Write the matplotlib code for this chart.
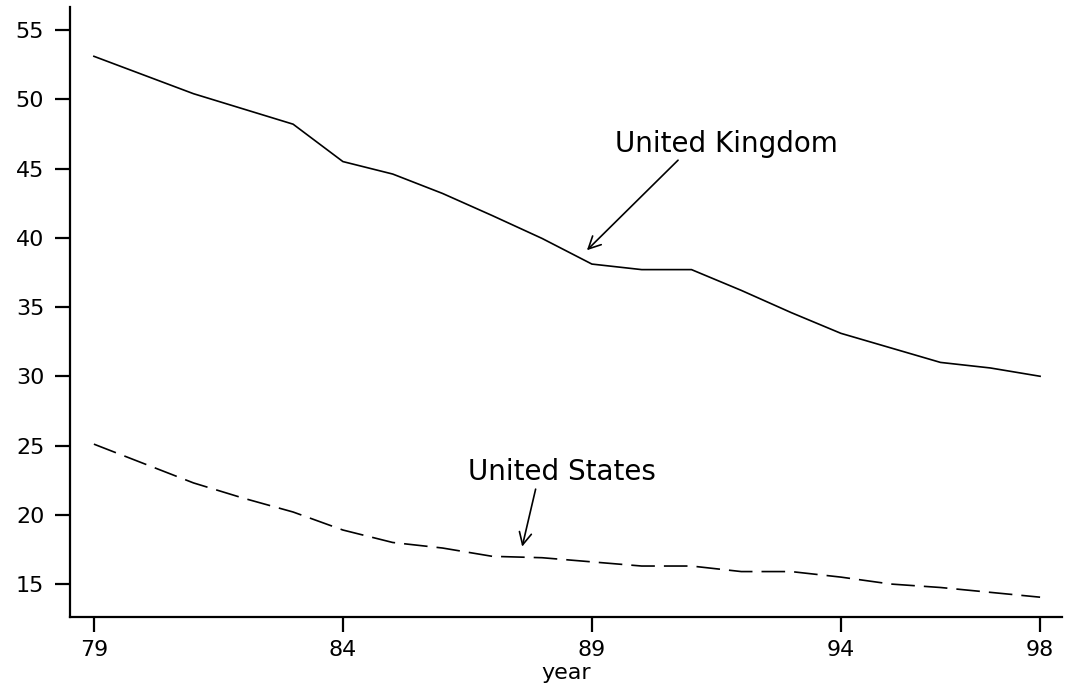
import matplotlib
matplotlib.use("Agg")
import matplotlib.pyplot as plt

plt.rcParams['font.family'] = ['DejaVu Sans']
plt.rcParams['lines.scale_dashes'] = False

years = [79, 80, 81, 82, 83, 84, 85, 86, 87, 88, 89, 90, 91, 92, 93, 94, 95, 96, 97, 98]
uk = [53.1, 51.75, 50.4, 49.3, 48.2, 45.5, 44.6, 43.2, 41.6, 39.95, 38.1, 37.7, 37.7, 36.2, 34.6, 33.1, 32.05, 31.0, 30.6, 30.0]
us = [25.1, 23.7, 22.3, 21.2, 20.2, 18.9, 18.0, 17.6, 17.0, 16.9, 16.6, 16.3, 16.3, 15.9, 15.9, 15.5, 15.0, 14.75, 14.4, 14.05]
xticks = [79, 84, 89, 94, 98]
yticks = [15, 20, 25, 30, 35, 40, 45, 50, 55]
xlabel = "year"
uk_label = "United Kingdom"
us_label = "United States"

fig = plt.figure(figsize=(10.65, 6.9), dpi=100)
ax = fig.add_axes([70/1065, 1 - 617/690, (1062 - 70)/1065, (617 - 7)/690])

ax.plot(years, uk, color='black', lw=1.2, solid_joinstyle='miter')
ax.plot(years, us, color='black', lw=1.2, dashes=(17, 6.5))

ax.set_xlim(78.52, 98.44)
ax.set_ylim(12.62, 56.66)
ax.set_xticks(xticks)
ax.set_xticklabels([str(v) for v in xticks])
ax.set_yticks(yticks)
ax.set_yticklabels([str(v) for v in yticks])

for s in ['top', 'right']:
    ax.spines[s].set_visible(False)
for s in ['left', 'bottom']:
    ax.spines[s].set_linewidth(1.6)
ax.tick_params(axis='both', length=10.5, width=1.6, labelsize=16, colors='black')
ax.tick_params(axis='y', pad=8)
ax.tick_params(axis='x', pad=6)
ax.set_xlabel(xlabel, fontsize=16, labelpad=2)

arrow_style = dict(arrowstyle='->', color='black', lw=1.2,
                   mutation_scale=22, shrinkA=0, shrinkB=0)
ax.text(91.7, 46.8, uk_label, fontsize=20, ha='center', va='center')
ax.annotate('', xy=(88.9, 39.1), xytext=(90.73, 45.6), arrowprops=arrow_style)
ax.text(88.4, 23.1, us_label, fontsize=20, ha='center', va='center')
ax.annotate('', xy=(87.6, 17.7), xytext=(87.87, 21.85), arrowprops=arrow_style)

fig.savefig("out.png", dpi=100)
